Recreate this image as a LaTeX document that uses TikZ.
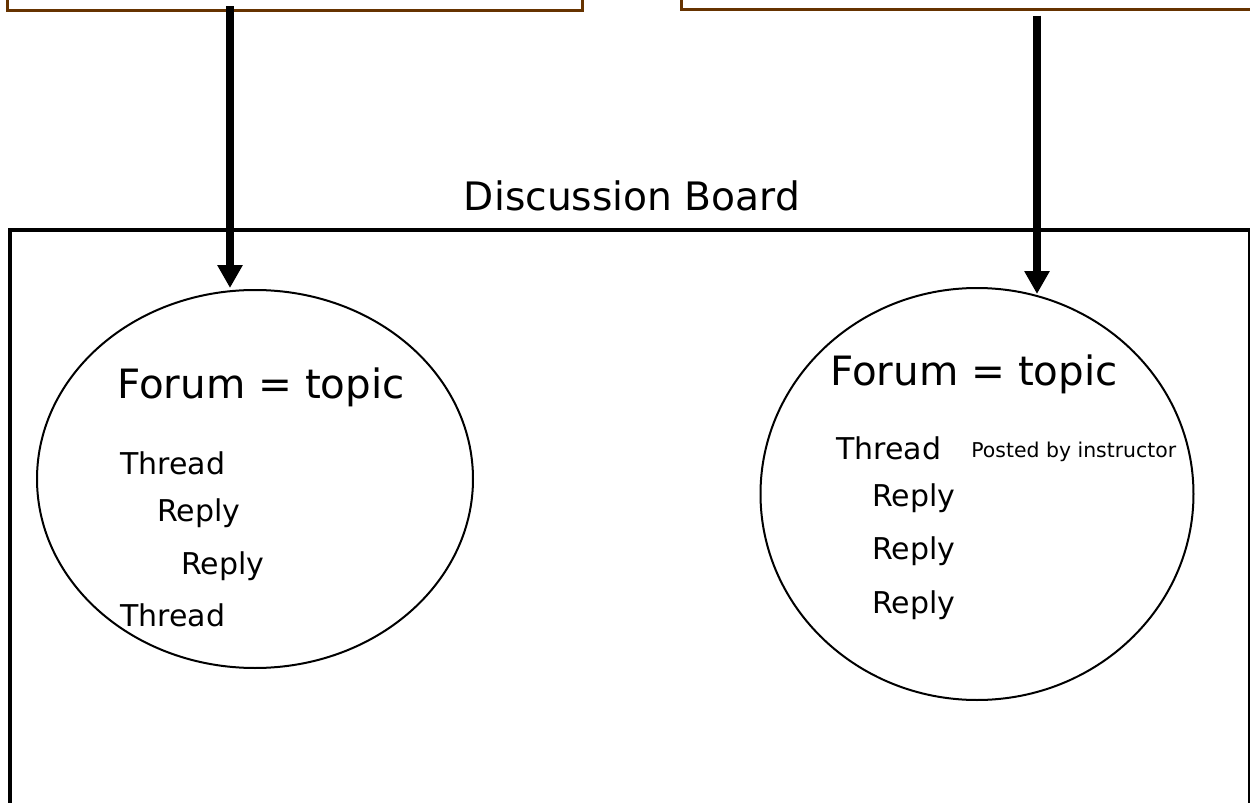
\documentclass[tikz,border=0pt]{standalone}
\usepackage{fontspec}
\setmainfont{DejaVu Sans}
\usetikzlibrary{arrows.meta,shapes.geometric}
\definecolor{brown}{RGB}{102, 51, 0}

\tikzset{
  topbox/.style={draw=brown, line width=1.5pt, rectangle, inner sep=0pt},
  forum/.style={draw, line width=1pt, ellipse, inner sep=0pt},
  bigarrow/.style={line width=4pt, -{Triangle[length=11.5pt,width=12pt]}},
  item/.style={anchor=west, inner sep=0pt, font=\fontsize{15}{18}\selectfont},
  heading/.style={anchor=west, inner sep=0pt, font=\fontsize{20.2}{24}\selectfont}
}

\begin{document}
\begin{tikzpicture}[x=0.5pt,y=-0.5pt]
  \useasboundingbox (0,0) rectangle (1250,803);
  \clip (0,0) rectangle (1250,803);
  % boxes at the top (cut off by the page)
  \node[topbox, minimum width=287.5pt, minimum height=30pt] (boxL) at (294.5,-20) {};
  \node[topbox, minimum width=300pt, minimum height=30pt] (boxR) at (981,-21) {};
  % the board
  \draw[line width=2pt] (10,1000) |- (1250,230) -- (1250,1000);
  \node[font=\fontsize{19.6}{24}\selectfont] (title) at (632,196) {Discussion Board};
  % forums
  \node[forum, minimum width=218pt, minimum height=189pt] (forumL) at (255,479) {};
  \node[forum, minimum width=216.5pt, minimum height=206pt] (forumR) at (977,494) {};
  % arrows
  \coordinate (tipL) at (230,288);
  \coordinate (tipR) at (1037,294);
  \draw[bigarrow] (230,6) -- (tipL);
  \draw[bigarrow] (boxR.south -| tipR) ++(0,5) -- (tipR);
  % left forum
  \node[heading] (fL) at (117,387) {Forum = topic};
  \node[item] (tL1) at (120,463) {Thread};
  \node[item] (rL1) at (157,513) {Reply};
  \node[item] (rL2) at (181,566) {Reply};
  \node[item] (tL2) at (120,615) {Thread};
  % right forum
  \node[heading] (fR) at (830,374) {Forum = topic};
  \node[item] (tR1) at (836,448) {Thread};
  \node[anchor=west, inner sep=0pt, font=\fontsize{10.2}{12}\selectfont] (post) at (971,452) {Posted by instructor};
  \node[item] (rR1) at (872,498) {Reply};
  \node[item] (rR2) at (872,551) {Reply};
  \node[item] (rR3) at (872,605) {Reply};
\end{tikzpicture}
\end{document}
